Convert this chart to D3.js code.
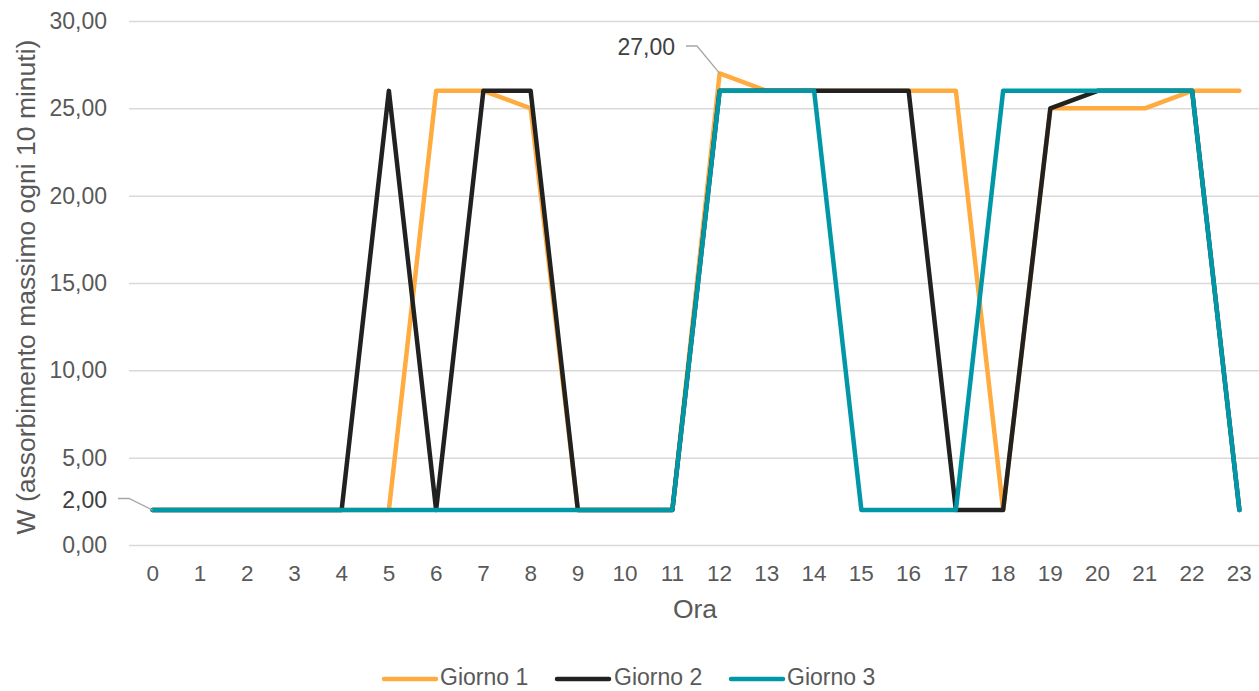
<!DOCTYPE html>
<html>
<head>
<meta charset="utf-8">
<script src="https://cdn.jsdelivr.net/npm/d3@7"></script>
<style>
  html, body { margin: 0; padding: 0; background: #fff; }
  svg { display: block; font-family: "Liberation Sans", Arial, sans-serif; }
</style>
</head>
<body>
<svg id="chart" width="1259" height="691"></svg>
<script>
// Hours of the day (x categories)
const hours = d3.range(0, 24).map(String);

// Maximum absorption every 10 minutes (W), one array per day
const giorno1 = [2, 2, 2, 2, 2, 2, 26, 26, 25, 2, 2, 2, 27, 26, 26, 26, 26, 26, 2, 25, 25, 25, 26, 26];
const giorno2 = [2, 2, 2, 2, 2, 26, 2, 26, 26, 2, 2, 2, 26, 26, 26, 26, 26, 2, 2, 25, 26, 26, 26, 2];
const giorno3 = [2, 2, 2, 2, 2, 2, 2, 2, 2, 2, 2, 2, 26, 26, 26, 2, 2, 2, 26, 26, 26, 26, 26, 2];

const seriesNames = ["Giorno 1", "Giorno 2", "Giorno 3"];
const seriesColors = ["#FFAB40", "#212121", "#0097A7"];
const seriesValues = [giorno1, giorno2, giorno3];

const yTicks = [0, 5, 10, 15, 20, 25, 30];

const fmt = v => d3.format(".2f")(v).replace(".", ",");

const svg = d3.select("#chart");
const margin = { left: 129, right: -4, top: 21, bottom: 146 };
const width = 1259 - margin.left - margin.right;
const height = 691 - margin.top - margin.bottom;

const g = svg.append("g").attr("transform", `translate(${margin.left},${margin.top})`);

const x = d3.scaleBand().domain(hours).range([0, width]);
const y = d3.scaleLinear().domain([0, 30]).range([height, 0]);
const cx = h => x(h) + x.bandwidth() / 2;

// Horizontal gridlines and y tick labels
const yAxis = d3.axisLeft(y).tickValues(yTicks).tickFormat(fmt).tickSize(-width).tickPadding(22);
const yg = g.append("g").call(yAxis);
yg.select(".domain").remove();
yg.selectAll(".tick line").attr("stroke", "#d9d9d9").attr("stroke-width", 1.5);
yg.selectAll(".tick text")
  .attr("fill", "#595959")
  .style("font-size", "23px")
  .style("font-family", "Liberation Sans, Arial, sans-serif");

// X tick labels
const xAxis = d3.axisBottom(x).tickSize(0).tickPadding(20);
const xg = g.append("g").attr("transform", `translate(0,${height})`).call(xAxis);
xg.select(".domain").remove();
xg.selectAll(".tick text")
  .attr("fill", "#595959")
  .style("font-size", "22.5px")
  .style("font-family", "Liberation Sans, Arial, sans-serif");

// Axis titles
svg.append("text")
  .attr("transform", `translate(26,${margin.top + height / 2 + 4}) rotate(-90)`)
  .attr("text-anchor", "middle")
  .attr("dominant-baseline", "central")
  .attr("fill", "#595959")
  .style("font-size", "26.5px")
  .text("W (assorbimento massimo ogni 10 minuti)");

svg.append("text")
  .attr("x", 695)
  .attr("y", 609)
  .attr("text-anchor", "middle")
  .attr("dominant-baseline", "central")
  .attr("fill", "#595959")
  .style("font-size", "26.5px")
  .text("Ora");

// Series lines
const line = d3.line().x((d, i) => cx(hours[i])).y(d => y(d));
seriesValues.forEach((vals, k) => {
  g.append("path")
    .datum(vals)
    .attr("fill", "none")
    .attr("stroke", seriesColors[k])
    .attr("stroke-width", 4.5)
    .attr("stroke-linejoin", "round")
    .attr("stroke-linecap", "round")
    .attr("d", line);
});

// Data labels with leader lines
function dataLabel(vals, idx, lx, ly) {
  const px = cx(hours[idx]), py = y(vals[idx]);
  g.append("path")
    .attr("fill", "none")
    .attr("stroke", "#a6a6a6")
    .attr("stroke-width", 1.3)
    .attr("d", `M${lx + 11},${ly}H${lx + 22}L${px},${py}`);
  g.append("text")
    .attr("x", lx)
    .attr("y", ly + 1)
    .attr("text-anchor", "end")
    .attr("dominant-baseline", "central")
    .attr("fill", "#404040")
    .style("font-size", "23px")
    .text(fmt(vals[idx]));
}
dataLabel(giorno3, 0, 107 - margin.left, 498.5 - margin.top);
dataLabel(giorno1, 12, 675 - margin.left, 46 - margin.top);

// Legend
const legendItems = [
  { x: 384, tx: 440 },
  { x: 557, tx: 614 },
  { x: 731, tx: 787 }
];
legendItems.forEach((it, k) => {
  svg.append("line")
    .attr("x1", it.x).attr("x2", it.x + 52)
    .attr("y1", 679).attr("y2", 679)
    .attr("stroke", seriesColors[k])
    .attr("stroke-width", 4.5)
    .attr("stroke-linecap", "round");
  svg.append("text")
    .attr("x", it.tx)
    .attr("y", 677)
    .attr("dominant-baseline", "central")
    .attr("fill", "#595959")
    .style("font-size", "23px")
    .text(seriesNames[k]);
});
</script>
</body>
</html>
